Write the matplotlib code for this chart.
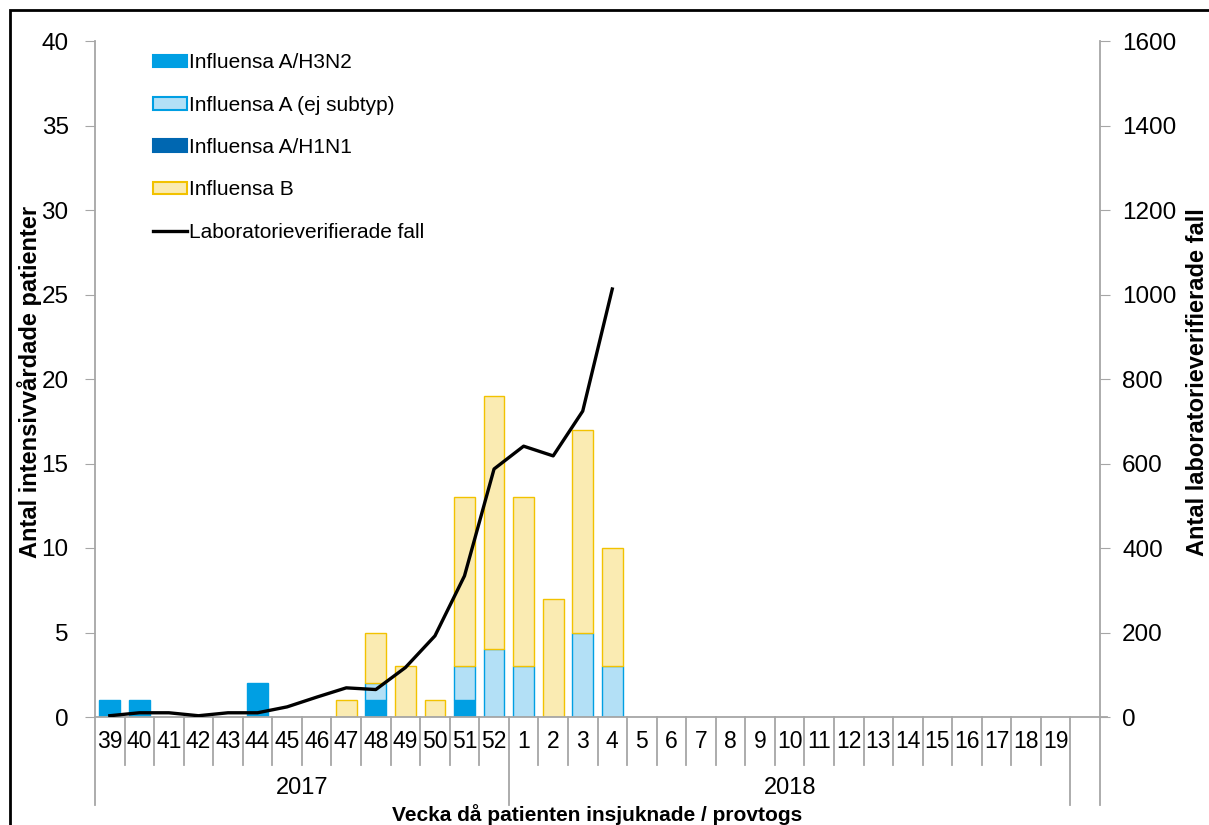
import numpy as np
import matplotlib.pyplot as plt
from matplotlib.patches import Rectangle
from matplotlib.lines import Line2D

plt.rcParams['font.family'] = ['Liberation Sans', 'DejaVu Sans']

weeks = ['39', '40', '41', '42', '43', '44', '45', '46', '47', '48', '49', '50', '51', '52',
         '1', '2', '3', '4', '5', '6', '7', '8', '9', '10', '11', '12', '13', '14', '15',
         '16', '17', '18', '19', '']
h3n2 = [1, 1, 0, 0, 0, 2, 0, 0, 0, 1, 0, 0, 1, 0, 0, 0, 0, 0] + [0] * 16
a_ej = [0, 0, 0, 0, 0, 0, 0, 0, 0, 1, 0, 0, 2, 4, 3, 0, 5, 3] + [0] * 16
h1n1 = [0] * 34
infl_b = [0, 0, 0, 0, 0, 0, 0, 0, 1, 3, 3, 1, 10, 15, 10, 7, 12, 7] + [0] * 16
lab_fall = [3, 10, 10, 3, 10, 10, 24, 47, 69, 65, 117, 192, 334, 587, 641, 618, 724, 1013]
years = ['2017', '2018']

c_h3n2 = '#009fe3'
c_aej = '#b3e0f6'
c_h1n1 = '#0067b1'
c_b = '#faebb2'
grey = '#a6a6a6'

fig = plt.figure(figsize=[12.09, 8.25], dpi=100)
ax = fig.add_axes([95/1209, 1-717/825, 1005/1209, 676/825])
ax2 = ax.twinx()

x = np.arange(len(weeks))
w = 0.7
h3 = np.array(h3n2)
ae = np.array(a_ej)
h1 = np.array(h1n1)
bb = np.array(infl_b)

def stack(vals, bottom, fc, ec, label):
    m = vals > 0
    ax.bar(x[m], vals[m], w, bottom=bottom[m], color=fc, edgecolor=ec, linewidth=1, zorder=2)
    ax.bar([0], [0], 0, color=fc, edgecolor=ec, linewidth=1.5, label=label)

stack(h3, np.zeros(len(x)), c_h3n2, c_h3n2, 'Influensa A/H3N2')
stack(ae, h3, c_aej, c_h3n2, 'Influensa A (ej subtyp)')
stack(h1, h3 + ae, c_h1n1, c_h1n1, 'Influensa A/H1N1')
stack(bb, h3 + ae + h1, c_b, '#f2c200', 'Influensa B')

ax2.plot(x[:len(lab_fall)], lab_fall, color='black', lw=2.4, zorder=3, label='Laboratorieverifierade fall')

ax.set_xlim(-0.5, len(weeks) - 0.5)
ax.set_ylim(0, 40)
ax2.set_ylim(0, 1600)
ax.set_yticks(np.arange(0, 41, 5))
ax2.set_yticks(np.arange(0, 1601, 200))
ax.set_xticks(x)
ax.set_xticklabels(weeks, fontsize=16.5)
ax.tick_params(axis='x', length=0, pad=9)
ax.tick_params(axis='y', direction='out', length=7, color=grey, labelsize=17.5, pad=12)
ax2.tick_params(axis='y', direction='out', length=7, color=grey, labelsize=17.5, pad=9)

for a in (ax, ax2):
    for s in a.spines.values():
        s.set_visible(False)

# axis lines drawn by hand so they can run down into the category area
def vline(xa, y0, y1):
    ax.add_line(Line2D([xa, xa], [y0, y1], transform=ax.transAxes, color=grey, lw=1.3, clip_on=False))

bot_short = -48/676
bot_long = -88/676
ax.add_line(Line2D([0, 1 + 7/1005], [0, 0], transform=ax.transAxes, color=grey, lw=1.3, clip_on=False, zorder=4))
vline(0, 1, bot_long)
vline(1, 1, bot_long)
n = len(weeks)
for k in range(1, n):
    long_ = k in (14, 33)
    vline(k / n, 0, bot_long if long_ else bot_short)

ax.text(7 / n, -71/676, years[0], transform=ax.transAxes, ha='center', va='center', fontsize=17)
ax.text(23.5 / n, -71/676, years[1], transform=ax.transAxes, ha='center', va='center', fontsize=17)

ax.set_ylabel('Antal intensivvårdade patienter', fontsize=17, fontweight='bold')
ax2.set_ylabel('Antal laboratorieverifierade fall', fontsize=17, fontweight='bold')
ax.yaxis.set_label_coords(-53/1005, 0.5 - 3/676)
ax2.yaxis.set_label_coords(1091/1005, 0.5 - 3/676)
fig.text(597/1209, 1-815/825, 'Vecka då patienten insjuknade / provtogs', ha='center', va='center',
         fontsize=15, fontweight='bold')

h1_, l1_ = ax.get_legend_handles_labels()
h2_, l2_ = ax2.get_legend_handles_labels()
ax.legend(h1_ + h2_, l1_ + l2_, loc='upper left', bbox_to_anchor=(50/1005, 1 - 4/676), frameon=False,
          borderaxespad=0, handlelength=1.6, handleheight=0.55, handletextpad=0.1, labelspacing=1.12,
          prop={'size': 15})

fig.patches.append(Rectangle((10/1209, -0.1), 1.2, 1 - 10/825 + 0.1, transform=fig.transFigure,
                             fill=False, edgecolor='black', lw=2))

fig.savefig('out.png', dpi=100)
